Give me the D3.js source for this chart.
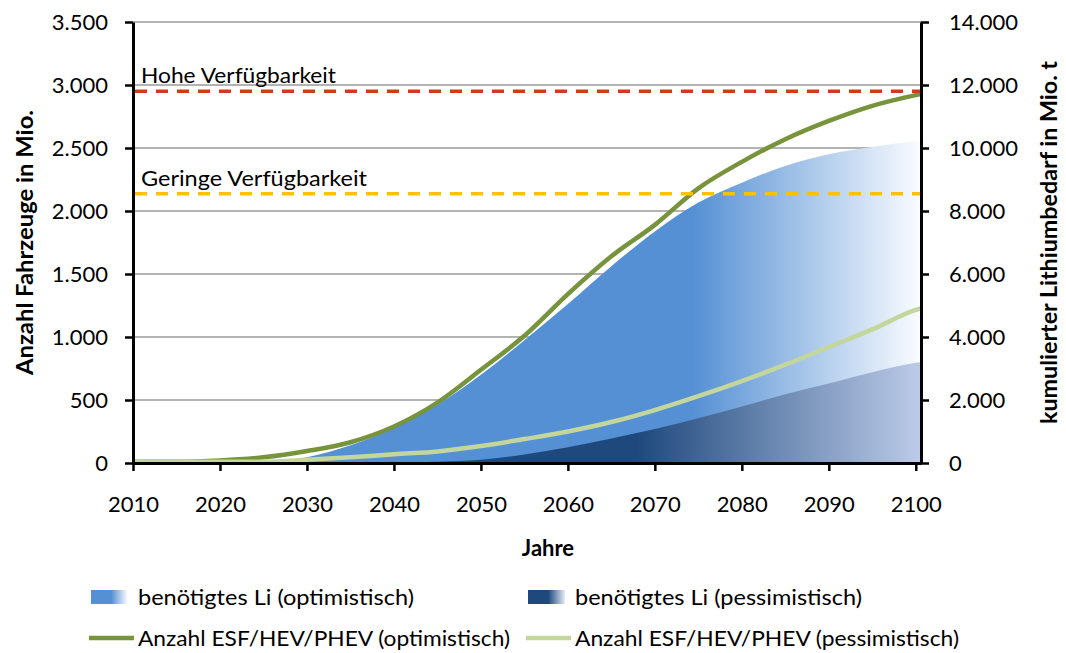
<!DOCTYPE html>
<html>
<head>
<meta charset="utf-8">
<script src="https://cdn.jsdelivr.net/npm/d3@7"></script>
<style>
  body { margin: 0; background: #fff; }
  svg text { font-family: Lato, "Open Sans", sans-serif; fill: #000; }
</style>
</head>
<body>
<svg id="chart" width="1066" height="653"></svg>
<script>
// Jahre (Stützstellen alle 5 Jahre, letzter Punkt am rechten Rand)
const years = [2010, 2015, 2020, 2025, 2030, 2035, 2040, 2045, 2050, 2055,
               2060, 2065, 2070, 2075, 2080, 2085, 2090, 2095, 2100, 2101];
// kumulierter Lithiumbedarf in Mio. t (rechte Achse)
const liOpt  = [0, 0, 0, 0, 180, 560, 1120, 1850, 2800, 3900,
                5050, 6250, 7350, 8270, 8900, 9430, 9800, 10030, 10220, 10250];
const liPess = [0, 0, 0, 0, 0, 0, 20, 40, 100, 270,
                500, 780, 1080, 1420, 1790, 2180, 2520, 2880, 3180, 3220];
// Anzahl Fahrzeuge in Mio. (linke Achse)
const vehOpt  = [10, 10, 20, 45, 95, 165, 290, 480, 740, 1010,
                 1340, 1640, 1890, 2180, 2390, 2570, 2715, 2835, 2920, 2935];
const vehPess = [10, 10, 10, 10, 25, 45, 70, 92, 135, 190,
                 250, 325, 420, 530, 650, 780, 920, 1060, 1215, 1235];
// Verfügbarkeit Lithium in Mio. t
const refHigh = 11800;
const refLow = 8550;

const leftTicks = [0, 500, 1000, 1500, 2000, 2500, 3000, 3500];
const rightTicks = [0, 2000, 4000, 6000, 8000, 10000, 12000, 14000];
const yearTicks = [2010, 2020, 2030, 2040, 2050, 2060, 2070, 2080, 2090, 2100];

const svg = d3.select("#chart");
const plot = { left: 133, right: 921, top: 22, bottom: 463 };
const fontSize = 22;

const x = d3.scaleLinear().domain([2010, 2100.6]).range([plot.left, plot.right]);
const yL = d3.scaleLinear().domain([0, 3500]).range([plot.bottom, plot.top]);
const yR = d3.scaleLinear().domain([0, 14000]).range([plot.bottom, plot.top]);

const de = d3.formatLocale({ decimal: ",", thousands: ".", grouping: [3], currency: ["", " €"] });
const fmt = de.format(",d");

const defs = svg.append("defs");
defs.append("clipPath").attr("id", "clip")
  .append("rect")
  .attr("x", plot.left).attr("y", plot.top)
  .attr("width", plot.right - plot.left).attr("height", plot.bottom - plot.top);

function gradient(id, stops, userSpace) {
  const g = defs.append("linearGradient").attr("id", id)
    .attr("x1", userSpace ? plot.left : 0).attr("x2", userSpace ? plot.right : 1)
    .attr("y1", 0).attr("y2", 0);
  if (userSpace) g.attr("gradientUnits", "userSpaceOnUse");
  stops.forEach(s => g.append("stop").attr("offset", s[0]).attr("stop-color", s[1]));
}
gradient("gOpt", [[0, "#5590d4"], [0.71, "#5590d4"], [1, "#fafcff"]], true);
gradient("gPess", [[0, "#1f497d"], [0.64, "#1f497d"], [1, "#bccbe8"]], true);
gradient("gOptLeg", [[0, "#5590d4"], [0.55, "#5590d4"], [1, "#ffffff"]], false);
gradient("gPessLeg", [[0, "#1f497d"], [0.55, "#1f497d"], [1, "#e6ecf6"]], false);

// Gitternetzlinien
svg.append("g")
  .selectAll("line")
  .data(leftTicks.filter(d => d > 0))
  .join("line")
  .attr("x1", plot.left).attr("x2", plot.right)
  .attr("y1", d => yL(d)).attr("y2", d => yL(d))
  .attr("stroke", "#9a9a9a")
  .attr("stroke-width", 1.3);

const rows = years.map((year, i) => ({
  year, liOpt: liOpt[i], liPess: liPess[i], vehOpt: vehOpt[i], vehPess: vehPess[i]
}));

const chart = svg.append("g").attr("clip-path", "url(#clip)");

const area = key => d3.area()
  .x(d => x(d.year))
  .y0(yR(0))
  .y1(d => yR(d[key]))
  .curve(d3.curveMonotoneX);

chart.append("path").datum(rows).attr("d", area("liOpt")).attr("fill", "url(#gOpt)");
chart.append("path").datum(rows).attr("d", area("liPess")).attr("fill", "url(#gPess)");

// Verfügbarkeitslinien
const refs = [
  { value: refHigh, color: "#d5391c", label: "Hohe Verfügbarkeit", len: 195 },
  { value: refLow, color: "#ffc000", label: "Geringe Verfügbarkeit", len: 226 }
];
refs.forEach(r => {
  svg.append("line")
    .attr("x1", plot.left + 2).attr("x2", plot.right)
    .attr("y1", yR(r.value)).attr("y2", yR(r.value))
    .attr("stroke", r.color)
    .attr("stroke-width", 3.5)
    .attr("stroke-dasharray", "12 9");
  svg.append("text")
    .attr("x", 141).attr("y", yR(r.value) - 8)
    .attr("font-size", fontSize)
    .attr("textLength", r.len).attr("lengthAdjust", "spacingAndGlyphs")
    .text(r.label);
});

const line = key => d3.line()
  .x(d => x(d.year))
  .y(d => yL(d[key]))
  .curve(d3.curveMonotoneX);

chart.append("path").datum(rows).attr("d", line("vehOpt"))
  .attr("fill", "none").attr("stroke", "#77933c").attr("stroke-width", 4.5)
  .attr("stroke-linejoin", "round");
chart.append("path").datum(rows).attr("d", line("vehPess"))
  .attr("fill", "none").attr("stroke", "#c3d69b").attr("stroke-width", 4.5)
  .attr("stroke-linejoin", "round");

// Achsen
function styleAxis(g) {
  g.attr("font-family", "Lato, 'Open Sans', sans-serif").attr("font-size", fontSize);
  g.select(".domain").attr("stroke", "#000").attr("stroke-width", 3);
  g.selectAll(".tick line").attr("stroke", "#000").attr("stroke-width", 2.5);
  g.selectAll(".tick text").attr("fill", "#000");
}

svg.append("g")
  .attr("transform", `translate(${plot.left},0)`)
  .call(d3.axisLeft(yL).tickValues(leftTicks).tickSize(8).tickSizeOuter(0)
    .tickPadding(17).tickFormat(fmt))
  .call(styleAxis);

svg.append("g")
  .attr("transform", `translate(${plot.right},0)`)
  .call(d3.axisRight(yR).tickValues(rightTicks).tickSize(8).tickSizeOuter(0)
    .tickPadding(20).tickFormat(fmt))
  .call(styleAxis);

svg.append("g")
  .attr("transform", `translate(0,${plot.bottom})`)
  .call(d3.axisBottom(x).tickValues(yearTicks).tickSize(8).tickSizeOuter(0)
    .tickPadding(25).tickFormat(d => d))
  .call(styleAxis);

// Achsentitel
svg.append("text")
  .attr("transform", `translate(33,${(plot.top + plot.bottom) / 2}) rotate(-90)`)
  .attr("text-anchor", "middle")
  .attr("font-size", fontSize).attr("font-weight", "bold")
  .attr("textLength", 265).attr("lengthAdjust", "spacingAndGlyphs")
  .text("Anzahl Fahrzeuge in Mio.");

svg.append("text")
  .attr("transform", `translate(1057,${(plot.top + plot.bottom) / 2}) rotate(-90)`)
  .attr("text-anchor", "middle")
  .attr("font-size", fontSize).attr("font-weight", "bold")
  .attr("textLength", 363).attr("lengthAdjust", "spacingAndGlyphs")
  .text("kumulierter Lithiumbedarf in Mio. t");

svg.append("text")
  .attr("x", 548).attr("y", 556)
  .attr("text-anchor", "middle")
  .attr("font-size", fontSize).attr("font-weight", "bold")
  .text("Jahre");

// Legende
const legendItems = [
  { type: "rect", fill: "url(#gOptLeg)", label: "benötigtes Li (optimistisch)", x: 91, y: 597, len: 276 },
  { type: "rect", fill: "url(#gPessLeg)", label: "benötigtes Li (pessimistisch)", x: 528, y: 597, len: 287 },
  { type: "line", stroke: "#77933c", label: "Anzahl ESF/HEV/PHEV (optimistisch)", x: 89, y: 638, len: 372 },
  { type: "line", stroke: "#c3d69b", label: "Anzahl ESF/HEV/PHEV (pessimistisch)", x: 526, y: 638, len: 384 }
];

const leg = svg.append("g")
  .selectAll("g")
  .data(legendItems)
  .join("g")
  .attr("transform", d => `translate(${d.x},${d.y})`);

leg.filter(d => d.type === "rect").append("rect")
  .attr("x", 0).attr("y", -7).attr("width", 37).attr("height", 14)
  .attr("fill", d => d.fill);

leg.filter(d => d.type === "line").append("line")
  .attr("x1", 0).attr("x2", 45).attr("y1", 0).attr("y2", 0)
  .attr("stroke", d => d.stroke).attr("stroke-width", 4.5);

leg.append("text")
  .attr("x", d => d.type === "rect" ? 47 : 49)
  .attr("y", 8)
  .attr("font-size", fontSize)
  .attr("textLength", d => d.len).attr("lengthAdjust", "spacingAndGlyphs")
  .text(d => d.label);
</script>
</body>
</html>
